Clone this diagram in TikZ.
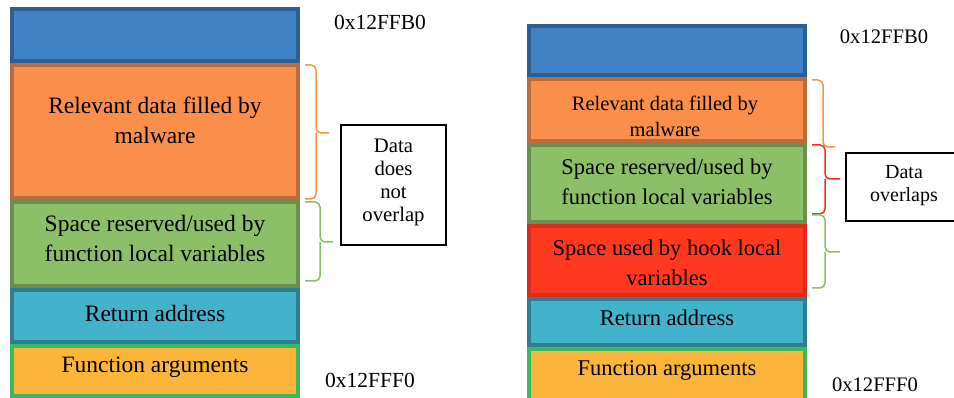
\documentclass[tikz,border=0pt]{standalone}
\usepackage{fontspec}
\setmainfont{Liberation Serif}
\definecolor{cblue}{HTML}{3F83C5}\definecolor{cblueb}{HTML}{2E5F93}
\definecolor{corange}{HTML}{FA8F4C}\definecolor{coranged}{HTML}{B96C3E}
\definecolor{cgreen}{HTML}{8CC068}\definecolor{cgreend}{HTML}{6B8F4E}
\definecolor{ccyan}{HTML}{43B3CC}\definecolor{ccyand}{HTML}{2F7E92}
\definecolor{cyellow}{HTML}{FBB53B}\definecolor{cyellowd}{HTML}{3CB85F}
\definecolor{cred}{HTML}{FF3820}\definecolor{credd}{HTML}{D92C1C}
\definecolor{borange}{HTML}{F79646}\definecolor{bgreen}{HTML}{8CC068}\definecolor{bred}{HTML}{FF2A1A}
\begin{document}
\begin{tikzpicture}[x=1pt,y=-1pt,
  sbox/.style={rectangle,line width=4pt,inner sep=0pt,outer sep=0pt},
  ltext/.style={align=center,inner sep=0pt,font=\fontsize{23.5}{30}\selectfont},
  rtext/.style={align=center,inner sep=0pt,font=\fontsize{22.5}{30}\selectfont},
  addr/.style={inner sep=0pt,font=\fontsize{21.5}{25}\selectfont},
  notebox/.style={draw=black,line width=1.5pt,rectangle,inner sep=0pt,outer sep=0pt},
  brace/.style={line width=1.5pt,rounded corners=5pt}]
\useasboundingbox (0,0) rectangle (954,398);
\clip (0,0) rectangle (954,398);
% left stack
\node[sbox,fill=cblue,draw=cblueb,minimum width=286pt,minimum height=52pt] (lb) at (155,35) {};
\node[sbox,fill=corange,draw=coranged,minimum width=286pt,minimum height=133pt] (lo) at (155,131.5) {};
\node[sbox,fill=cgreen,draw=cgreend,minimum width=286pt,minimum height=84pt] (lg) at (155,244) {};
\node[sbox,fill=ccyan,draw=ccyand,minimum width=286pt,minimum height=52pt] (lc) at (155,316) {};
\node[sbox,fill=cyellow,draw=cyellowd,minimum width=286pt,minimum height=50pt] (ly) at (155,371) {};
\node[ltext] (tlo) at (155,120) {Relevant data filled by\\malware};
\node[ltext] (tlg) at (155,238) {Space reserved/used by\\function local variables};
\node[ltext] (tlc) at (155,313) {Return address};
\node[ltext] (tly) at (155,367) {Function arguments};
\node[addr] (a1) at (380,22) {0x12FFB0};
\node[addr] (a2) at (370,380) {0x12FFF0};
\node[notebox,minimum width=105pt,minimum height=120pt] (n1) at (393.5,185) {};
\node[align=center,inner sep=0pt,font=\fontsize{20.7}{23}\selectfont] (tn1) at (393.5,182) {Data\\does\\not\\overlap};
% left braces
\draw[brace,draw=borange] (305,65) -- (316,65) -- (316,133) -- (329,133);
\draw[brace,draw=borange] (305,199) -- (316,199) -- (316,133);
\draw[brace,draw=bgreen] (305,202) -- (320,202) -- (320,242) -- (333,242);
\draw[brace,draw=bgreen] (305,281) -- (320,281) -- (320,242);
% right stack
\node[sbox,fill=cblue,draw=cblueb,minimum width=276pt,minimum height=49pt] (rb) at (667,50.5) {};
\node[sbox,fill=corange,draw=coranged,minimum width=276pt,minimum height=62pt] (ro) at (667,110) {};
\node[sbox,fill=cgreen,draw=cgreend,minimum width=276pt,minimum height=77pt] (rg) at (667,183.5) {};
\node[sbox,fill=cred,draw=credd,minimum width=276pt,minimum height=69pt] (rr) at (667,260.5) {};
\node[sbox,fill=ccyan,draw=ccyand,minimum width=276pt,minimum height=46pt] (rc) at (667,322) {};
\node[sbox,fill=cyellow,draw=cyellowd,minimum width=276pt,minimum height=53pt] (ry) at (667,375.5) {};
\node[align=center,inner sep=0pt,font=\fontsize{20.5}{26}\selectfont] (tro) at (665,116) {Relevant data filled by\\malware};
\node[rtext] (trg) at (667,182) {Space reserved/used by\\function local variables};
\node[rtext] (trr) at (667,263) {Space used by hook local\\variables};
\node[rtext] (trc) at (667,318) {Return address};
\node[rtext] (try) at (667,370) {Function arguments};
\node[addr,font=\fontsize{20.6}{25}\selectfont] (a3) at (884,37) {0x12FFB0};
\node[addr,font=\fontsize{20.6}{25}\selectfont] (a4) at (875,385) {0x12FFF0};
\node[notebox,minimum width=110pt,minimum height=68pt,anchor=north west] (n2) at (846,153) {};
\node[align=center,inner sep=0pt,font=\fontsize{20}{23}\selectfont] (tn2) at (904,186) {Data\\overlaps};
% right braces
\draw[brace,draw=borange] (812,80) -- (823,80) -- (823,147) -- (835,147);
\draw[brace,draw=bred] (812,145) -- (825,145) -- (825,179) -- (840,179);
\draw[brace,draw=bred] (812,214) -- (825,214) -- (825,179);
\draw[brace,draw=bgreen] (812,215) -- (825,215) -- (825,252) -- (840,252);
\draw[brace,draw=bgreen] (812,288) -- (825,288) -- (825,252);
\end{tikzpicture}
\end{document}
